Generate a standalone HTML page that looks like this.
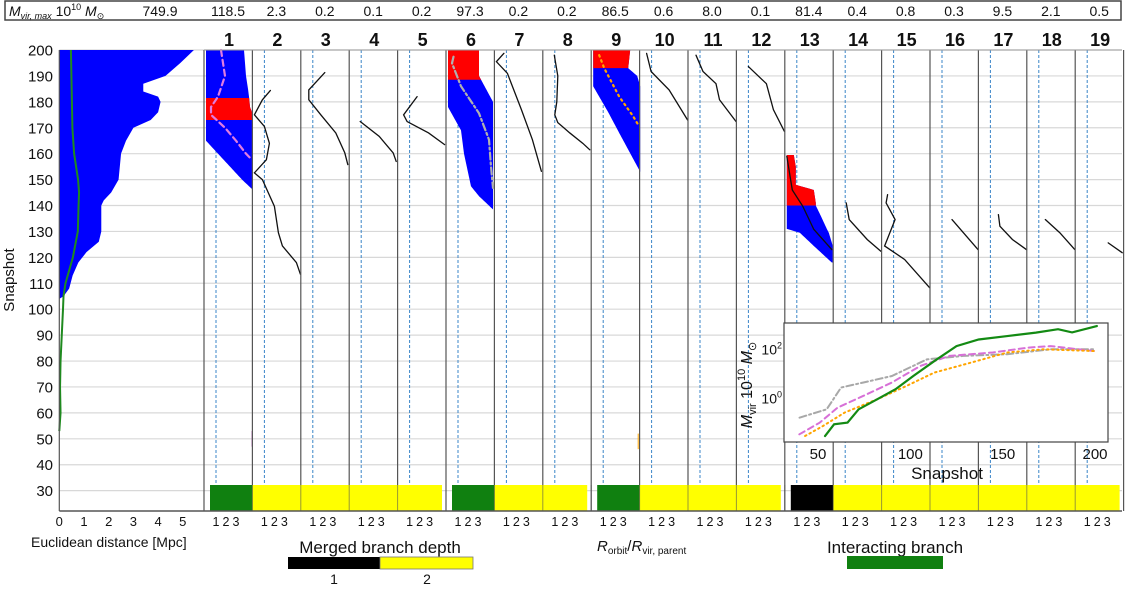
<!DOCTYPE html>
<html><head><meta charset="utf-8">
<style>
html,body{margin:0;padding:0;background:#fff;}
svg{display:block;font-family:"Liberation Sans","DejaVu Sans",sans-serif;}
</style></head>
<body>
<svg id="chart" width="1125" height="589" viewBox="0 0 1125 589" xmlns="http://www.w3.org/2000/svg"></svg>
<script>
// ---------- data ----------
const maxMassLabels = ["749.9","118.5","2.3","0.2","0.1","0.2","97.3","0.2","0.2","86.5","0.6","8.0","0.1","81.4","0.4","0.8","0.3","9.5","2.1","0.5"];
const yTicks = [200,190,180,170,160,150,140,130,120,110,100,90,80,70,60,50,40,30];
const distTicks = [0,1,2,3,4,5];
const distSnap = [200,195,190,187,184,182,180,176,173,170,165,160,155,150,145,142,140,135,130,126,122,118,113,108,105,104];
const distVal  = [5.45,4.9,4.3,3.4,3.4,4.0,4.1,4.0,3.7,3.0,2.7,2.5,2.45,2.4,2.1,1.8,1.7,1.7,1.7,1.6,1.1,0.77,0.54,0.4,0.17,0];
const greenSnap = [200,185,170,160,150,145,140,130,120,115,110,105,100,90,80,70,60,53];
const greenVal  = [0.47,0.5,0.53,0.6,0.76,0.8,0.78,0.75,0.55,0.4,0.25,0.17,0.15,0.1,0.05,0.03,0.05,0];
// filled regions (panel index, snapshots, left, right, red range)
const regionPanels = [1,6,9,13];
const regionSnaps = [
 [200,195,190,185,182,178,175,170,165,160,155,150,146],
 [200,190,185,180,178,169,160,147.4,143.6,138.5],
 [200,193,190,186,176,168,158,153],
 [159.5,155,148,146,141,140,136,131,129.5,124.4,118]];
const regionLeft = [
 [0,0,0,0,0,0,0,0,0,1.2,2.4,3.6,4.7],
 [0,0,0,0,0,1.3,1.6,2.3,3.1,4.5],
 [0,0,0,0,1.5,2.6,4.0,4.7],
 [0,0,0,0,0,0,0,0,1.3,2.7,4.5]];
const regionRight = [
 [3.8,3.9,4.0,4.2,4.3,4.4,4.7,4.7,4.7,4.7,4.7,4.7,4.7],
 [3.1,3.1,3.8,4.5,4.5,4.5,4.5,4.5,4.5,4.5],
 [3.7,3.5,4.4,4.7,4.7,4.7,4.7,4.7],
 [0.7,0.9,0.9,2.7,2.9,2.9,3.4,4.0,4.2,4.6,4.6]];
const redLow  = [173,188.5,193,140];
const redHigh = [181.5,200,200,159.5];
// orbit lines per panel (R_orbit / R_vir)
const orbitPanels = [1,2,3,4,5,6,7,8,9,10,11,12,13,14,15,16,17,18,19];
const orbitSnaps = [
 [200,190,182,178,175,170,165,160,158],
 [184.4,180.8,175,170.5,164,157.7,152.6,150,139.7,129.5,124.4,118,113.5],
 [191.3,184.6,180.8,175,168,160.3,155.8],
 [172.4,166.7,160.3,157],
 [182,175,172.4,168,163.5],
 [197.4,194.9,186,175.6,165.4,155,146.8],
 [198.7,195.5,191,177,165.4,153.2],
 [198,190,180,175,172,168,164,161.5],
 [198,193,182,174.4,170.5],
 [198.7,191.7,184.6,173],
 [198,191.7,187,180.8,172.4],
 [193.6,187,177,168.6],
 [159,146,139.7,130.8,123],
 [141,134.6,126.9,122.4],
 [144.2,141,134.6,124.4,119.2,108.3],
 [134.6,123],
 [136.5,132,126.9,123],
 [134.6,129.5,123],
 [125.6,121.8]];
const orbitVals = [
 [1.5,1.9,1.2,0.5,0.5,1.9,3.0,4.0,4.5],
 [1.6,0.8,0,1.0,1.5,1.2,0,0.8,2.0,2.4,2.8,4.2,4.6],
 [2.2,0.6,0.6,1.8,3.3,4.2,4.5],
 [0.9,2.8,4.2,4.5],
 [1.75,0.4,0.75,2.9,4.5],
 [0.55,0.4,1.3,3.1,4.1,4.3,4.5],
 [0.75,0,1.1,2.5,3.6,4.5],
 [0.95,1.3,1.2,1.0,1.3,2.5,3.8,4.5],
 [0.6,1.1,2.6,4.0,4.6],
 [0.5,0.95,2.75,4.6],
 [0.6,1.3,2.6,2.95,4.6],
 [1.0,2.8,3.5,4.6],
 [0.0,0.55,1.6,2.7,4.5],
 [1.1,1.4,3.2,4.55],
 [0.4,0.25,1.15,0.1,2.1,4.6],
 [2.0,4.6],
 [1.8,1.95,3.2,4.6],
 [1.65,3.1,4.6],
 [3.1,4.5]];
// bottom bars: [firstPanel, lastPanel, depth-1 colour]
const barFirst = [1,6,9,13];
const barLast  = [5,8,12,19];
const barKind  = ["interacting","interacting","interacting","depth1"];
// inset mass histories
const insetXTicks = [50,100,150,200];
const insetYTicks = [0,2];
const greenMassSnap = [53.8,58.7,66,72,82,92,101.6,113,125,137,152.5,168,180,187.6,201];
const greenMassLog  = [-1.54,-1.06,-0.99,-0.45,-0.04,0.37,0.91,1.52,2.13,2.4,2.54,2.68,2.82,2.69,2.95];
const pinkMassSnap = [39.9,51,60.6,74.3,89.9,105.4,121.2,144.6,164,176,199.4];
const pinkMassLog  = [-1.47,-0.99,-0.38,0.09,0.64,1.32,1.73,1.87,2.07,2.13,1.93];
const greyMassSnap = [40,54.7,62.5,74.3,90,109,128.7,152.5,176,199.4];
const greyMassLog  = [-0.79,-0.45,0.44,0.64,0.91,1.59,1.73,1.8,2.0,2.0];
const orangeMassSnap = [43,52.7,64.5,82,97.8,113,133,152.5,172,199.4];
const orangeMassLog  = [-1.54,-1.13,-0.58,-0.04,0.5,1.05,1.46,1.87,2.0,1.93];

// ---------- scales ----------
const NS="http://www.w3.org/2000/svg";
const svg=document.getElementById('chart');
const Y = s => 50 + (200 - s) * 2.592;
const LX = d => 59.3 + d * 24.7;
const PL = i => 204 + (i - 1) * 48.4;
const PX = (i, v) => PL(i) + 2 + v * 10;
const IX = s => 818 + (s - 50) * (1095 - 818) / 150;
const IY = l => 398.3 - l * 24.5;
function mk(tag, attrs, parent){const e=document.createElementNS(NS,tag);for(const k in attrs)e.setAttribute(k,attrs[k]);(parent||svg).appendChild(e);return e;}
function txt(x,y,s,size,anchor,extra){const e=mk('text',Object.assign({x:x,y:y,'font-size':size,'text-anchor':anchor||'middle',fill:'#111'},extra||{}));e.textContent=s;return e;}
function interp(snaps, vals, s){for(let k=0;k<snaps.length-1;k++){const a=snaps[k],b=snaps[k+1];if(s<=a&&s>=b){const t=(a-s)/(a-b||1);return vals[k]+(vals[k+1]-vals[k])*t;}}return s>snaps[0]?vals[0]:vals[vals.length-1];}

// ---------- top box ----------
let e=mk('rect',{x:5,y:1,width:1116,height:19,fill:'#fff',stroke:'#444','stroke-width':1.5});


e=mk('text',{x:9,y:16,'font-size':14,fill:'#111'});
e.innerHTML='<tspan font-style="italic">M</tspan><tspan font-size="9" dy="3" font-style="italic">vir, max</tspan><tspan dy="-3"> 10</tspan><tspan font-size="9" dy="-6">10</tspan><tspan dy="6" font-style="italic"> M</tspan><tspan font-size="9" dy="3">⊙</tspan>';


maxMassLabels.forEach((m,k)=>{const x=k===0?160:PL(k)+24;const t=txt(x,16,m,14,'middle');

});

// ---------- grid ----------
yTicks.forEach(s=>{const g=mk('line',{x1:59.3,x2:1122,y1:Y(s),y2:Y(s),stroke:'#d8d8d8','stroke-width':1.2});


const t=txt(53,Y(s)+5.5,String(s),15,'end');

});
e=txt(0,0,'Snapshot',15,'middle',{transform:'translate(14,280) rotate(-90)'});



// ---------- left distance panel ----------
let pts=[];distSnap.forEach((s,k)=>pts.push(LX(distVal[k])+','+Y(s)));
pts.push(LX(0)+','+Y(distSnap[distSnap.length-1]));pts.push(LX(0)+','+Y(200));
e=mk('polygon',{points:pts.join(' '),fill:'#0000ff'});


e=mk('polyline',{points:greenSnap.map((s,k)=>LX(greenVal[k])+','+Y(s)).join(' '),fill:'none',stroke:'#1f8a1f','stroke-width':2});


distTicks.forEach(d=>{const t=txt(LX(d),526,String(d),13,'middle');

});
e=txt(31,547,'Euclidean distance [Mpc]',14,'start');



// ---------- panels ----------
for(let i=1;i<=19;i++){
  const h=txt(PL(i)+25,46,String(i),18,'middle',{'font-weight':'bold'});
  
  
  const dl=mk('line',{x1:PX(i,1),x2:PX(i,1),y1:50,y2:511,stroke:'#3a85c8','stroke-width':1,'stroke-dasharray':'3,2'});
  
  
  [1,2,3].forEach(v=>{const t=txt(PX(i,v),526,String(v),12.5,'middle');
  
  });
}
// regions
regionPanels.forEach((p,r)=>{
  const sn=regionSnaps[r],L=regionLeft[r],R=regionRight[r];
  function poly(lo,hi,color,name){const a=[],b=[];for(let s=hi;s>=lo-0.001;s-=0.5){a.push(PX(p,interp(sn,R,s))+','+Y(s));b.unshift(PX(p,interp(sn,L,s))+','+Y(s));}
   const e=mk('polygon',{points:a.concat(b).join(' '),fill:color});
   
   }
  poly(sn[sn.length-1],sn[0],'#0000ff','orbit-region-blue');
  poly(redLow[r],redHigh[r],'#ff0000','orbit-region-red');
});
// orbit lines
const lineStyle={1:{stroke:'#e07de0',w:2.2,dash:'6,4'},6:{stroke:'#b0b0b0',w:2.2,dash:'7,3,2,3'},9:{stroke:'#ffa500',w:2.2,dash:'1.5,4'}};
orbitPanels.forEach((p,k)=>{const st=lineStyle[p]||{stroke:'#111',w:1.3,dash:'none'};
  const l=mk('polyline',{points:orbitSnaps[k].map((s,j)=>PX(p,orbitVals[k][j])+','+Y(s)).join(' '),fill:'none',stroke:st.stroke,'stroke-width':st.w,'stroke-dasharray':st.dash,'stroke-linecap':'round'});
  
  });
// tiny stray marks near snapshot 50
e=mk('line',{x1:PX(1,4.6),x2:PX(1,4.6),y1:Y(53),y2:Y(47),stroke:'#c070c0','stroke-width':1});


e=mk('line',{x1:PX(9,4.5),x2:PX(9,4.5),y1:Y(52),y2:Y(46),stroke:'#ffa500','stroke-width':1});


// panel separators
for(let i=1;i<=20;i++){const l=mk('line',{x1:PL(i),x2:PL(i),y1:50,y2:511,stroke:'#555','stroke-width':1.2});

}
// bars
barFirst.forEach((f,k)=>{const x0=PL(f)+6,x1=PL(f+1),x2=PL(barLast[k]+1)-4;
  const a=mk('rect',{x:x0,y:485,width:x1-x0,height:26,fill:barKind[k]==='depth1'?'#000':'#108010'});
  
  
  const b=mk('rect',{x:x1,y:485,width:x2-x1,height:26,fill:'#ffff00'});
  
  
  [f,f+1].forEach(()=>{});
});
// redraw separators/dashes over bars lightly
for(let i=1;i<=19;i++){const l=mk('line',{x1:PL(i),x2:PL(i),y1:485,y2:511,stroke:'#555','stroke-width':1,opacity:0.6});

}
// axes spines
e=mk('line',{x1:59.3,x2:59.3,y1:50,y2:511,stroke:'#555','stroke-width':1.2});


e=mk('line',{x1:59.3,x2:1122,y1:511,y2:511,stroke:'#555','stroke-width':1.5});


e=mk('line',{x1:204,x2:1122,y1:50,y2:50,stroke:'#999','stroke-width':1});



// ---------- legends ----------
e=txt(380,553,'Merged branch depth',17,'middle');


e=mk('rect',{x:288,y:557,width:92,height:12,fill:'#000'});


e=mk('rect',{x:380,y:557,width:93,height:12,fill:'#ffff00',stroke:'#777','stroke-width':0.8});


e=txt(334,584,'1',14,'middle');


e=txt(427,584,'2',14,'middle');


e=mk('text',{x:597,y:551,'font-size':15,fill:'#111'});
e.innerHTML='<tspan font-style="italic">R</tspan><tspan font-size="10" dy="3">orbit</tspan><tspan dy="-3">/</tspan><tspan font-style="italic">R</tspan><tspan font-size="10" dy="3">vir, parent</tspan>';


e=txt(895,553,'Interacting branch',17,'middle');


e=mk('rect',{x:847,y:556,width:96,height:13,fill:'#108010'});



// ---------- inset ----------
e=mk('rect',{x:784,y:323,width:324,height:119,fill:'#fff',stroke:'#444','stroke-width':1.2});


insetXTicks.forEach(s=>{const t=txt(IX(s),459,String(s),15,'middle');

});
insetYTicks.forEach(l=>{const t=mk('text',{x:782,y:IY(l)+5,'font-size':14,'text-anchor':'end',fill:'#111'});
t.innerHTML='10<tspan font-size="9" dy="-6">'+l+'</tspan>';

});
e=txt(947,479,'Snapshot',17,'middle');


e=mk('text',{x:0,y:0,'font-size':16,'text-anchor':'middle',fill:'#111',transform:'translate(752,385) rotate(-90)'});
e.innerHTML='<tspan font-style="italic">M</tspan><tspan font-size="11" dy="4">vir</tspan><tspan dy="-4"> 10</tspan><tspan font-size="11" dy="-7">10</tspan><tspan dy="7" font-style="italic"> M</tspan><tspan font-size="11" dy="4">⊙</tspan>';


function massLine(sn,lg,color,w,dash,name){const l=mk('polyline',{points:sn.map((s,k)=>IX(s)+','+IY(lg[k])).join(' '),fill:'none',stroke:color,'stroke-width':w,'stroke-dasharray':dash,'stroke-linecap':'round'});

}
massLine(greyMassSnap,greyMassLog,'#a8a8a8',2,'7,3,2,3','inset-grey-line');
massLine(pinkMassSnap,pinkMassLog,'#d770d7',2,'6,4','inset-pink-line');
massLine(orangeMassSnap,orangeMassLog,'#ffa500',2,'1.5,3.5','inset-orange-line');
massLine(greenMassSnap,greenMassLog,'#138a13',2.2,'none','inset-green-line');
</script>
</body></html>
